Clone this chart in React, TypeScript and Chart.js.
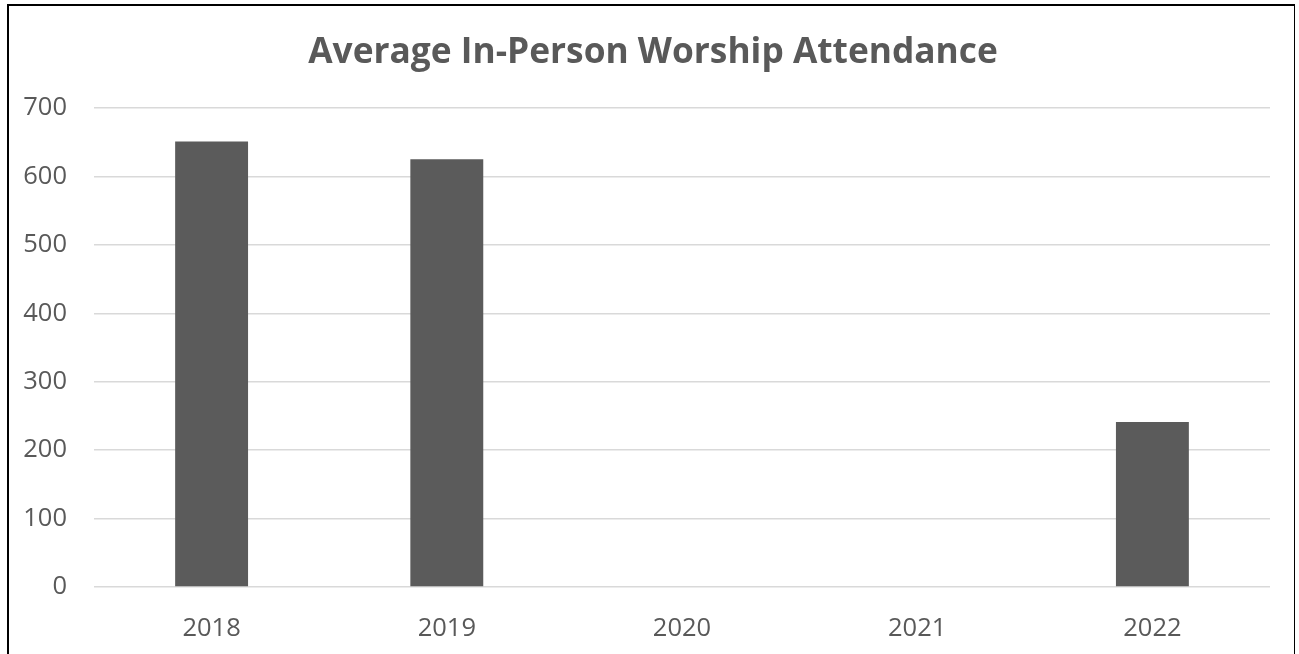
import React, { useEffect, useRef } from "react";
import { Chart, registerables } from "chart.js";

Chart.register(...registerables);

const categories = ["2018", "2019", "2020", "2021", "2022"];
const attendance: (number | null)[] = [651, 625, null, null, 241];
const yTicks = [0, 100, 200, 300, 400, 500, 600, 700];
const titleText = "Average In-Person Worship Attendance";

const TEXT = "#595959";
const BAR = "#5b5b5b";
const GRID = "#d9d9d9";
const FONT = "'Open Sans', 'Liberation Sans', sans-serif";

const titlePlugin = {
  id: "frameTitle",
  afterDraw(chart: any) {
    const ctx = chart.ctx;
    ctx.save();
    ctx.font = `bold 35.3px ${FONT}`;
    ctx.fillStyle = TEXT;
    ctx.textAlign = "center";
    ctx.textBaseline = "alphabetic";
    ctx.fillText(titleText, 653, 63);
    ctx.restore();
  },
};

export default function App() {
  const ref = useRef<HTMLCanvasElement | null>(null);

  useEffect(() => {
    const canvas = ref.current;
    if (!canvas) return;
    const chart = new Chart(canvas, {
      type: "bar",
      data: {
        labels: categories,
        datasets: [
          {
            label: "Attendance",
            data: attendance,
            backgroundColor: BAR,
            borderWidth: 0,
            categoryPercentage: 1,
            barPercentage: 0.31,
          },
        ],
      },
      plugins: [titlePlugin],
      options: {
        responsive: false,
        animation: false,
        devicePixelRatio: 1,
        layout: { padding: { left: 0, right: 29, top: 108, bottom: 0 } },
        plugins: {
          legend: { display: false },
          tooltip: { enabled: false },
          title: { display: false },
        },
        scales: {
          x: {
            grid: { display: false, drawTicks: false },
            border: { display: false },
            ticks: {
              color: TEXT,
              font: { family: FONT, size: 25.5 },
              padding: 26,
              maxRotation: 0,
            },
            afterFit: (s: any) => {
              s.height = 67;
            },
          },
          y: {
            min: 0,
            max: 700,
            afterBuildTicks: (s: any) => {
              s.ticks = yTicks.map((v) => ({ value: v }));
            },
            grid: { color: GRID, lineWidth: 1.5, drawTicks: false },
            border: { display: false },
            ticks: {
              color: TEXT,
              font: { family: FONT, size: 25.5 },
              padding: 27,
            },
            afterFit: (s: any) => {
              s.width = 94;
            },
          },
        },
      },
    });
    return () => chart.destroy();
  }, []);

  return (
    <div
      style={{
        position: "absolute",
        left: 0,
        top: 0,
        width: 1299,
        height: 654,
        overflow: "hidden",
        background: "#fff",
      }}
    >
      <div
        style={{
          position: "absolute",
          left: 7,
          top: 4,
          width: 1285,
          height: 700,
          borderLeft: "2px solid #000",
          borderTop: "2px solid #000",
          borderRight: "1px solid #000",
        }}
      />
      <canvas
        ref={ref}
        width={1299}
        height={654}
        style={{ position: "absolute", left: 0, top: 0, width: 1299, height: 654 }}
      />
    </div>
  );
}
